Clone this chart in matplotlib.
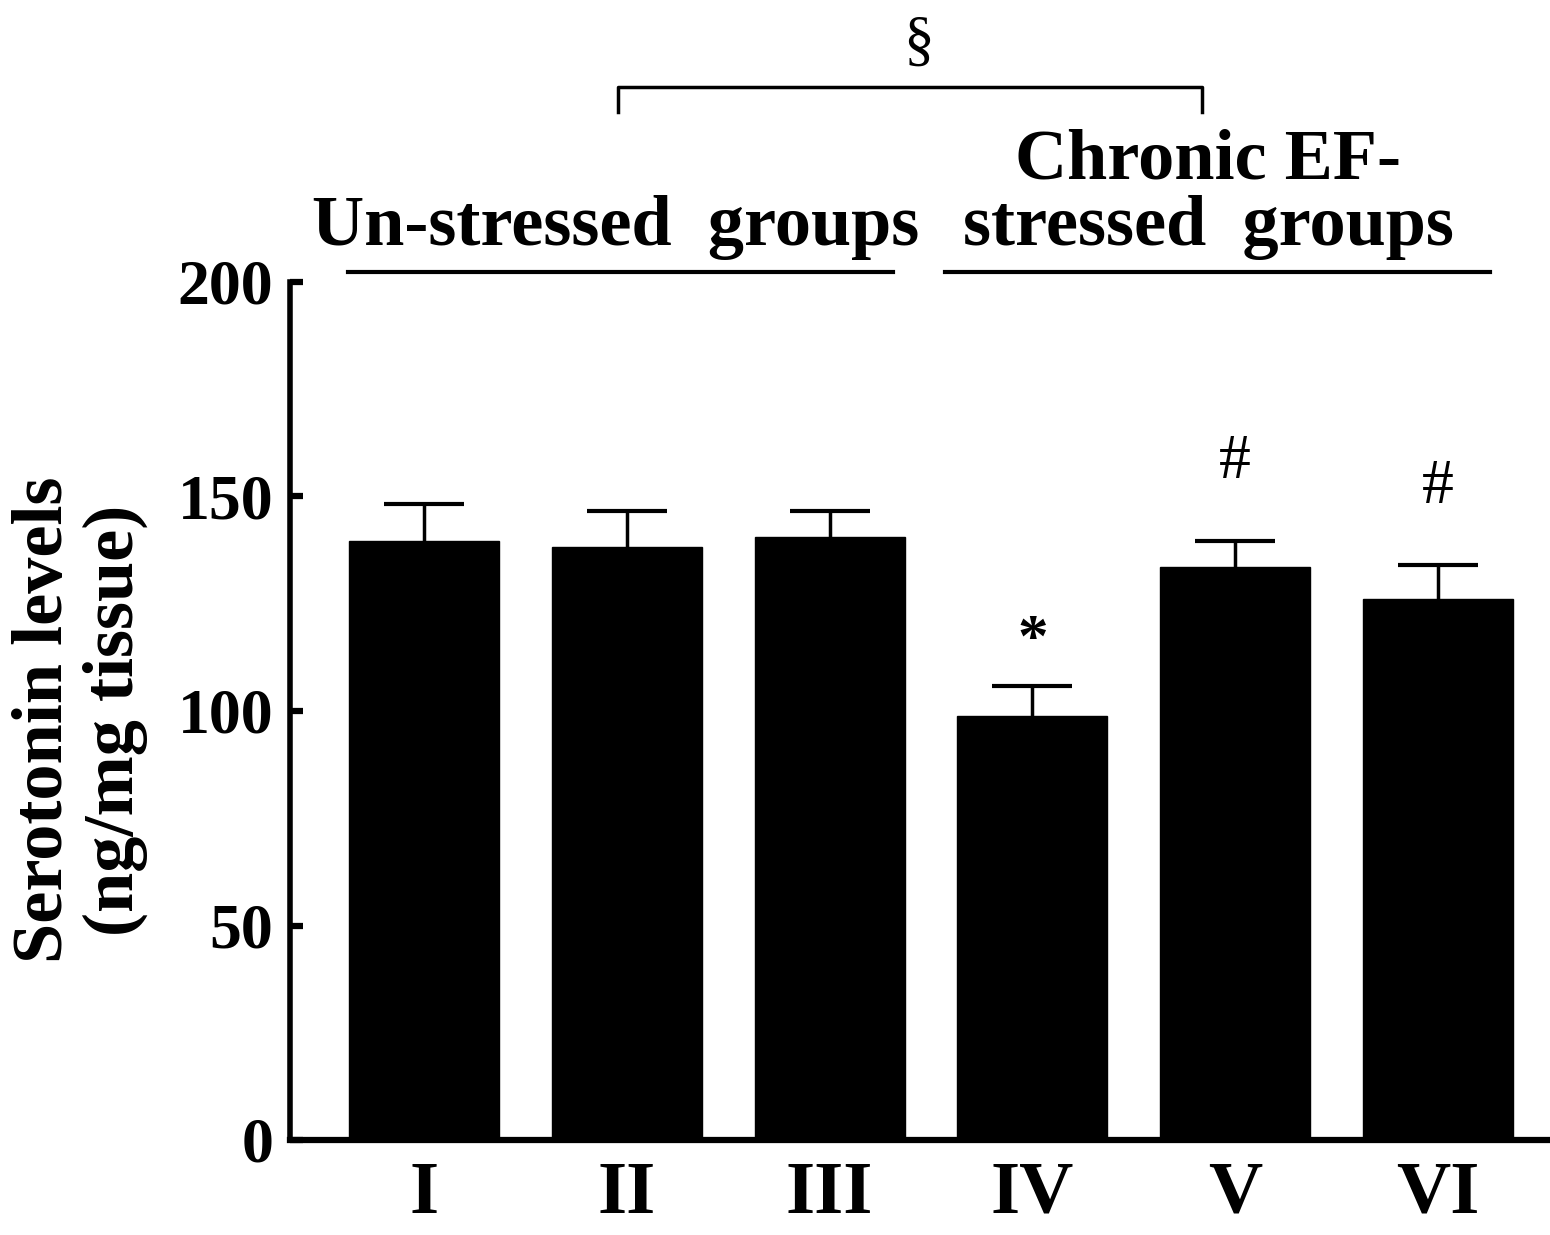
import numpy as np
import matplotlib
matplotlib.use("Agg")
import matplotlib.pyplot as plt

# --- datos ---
grupos = ["I", "II", "III", "IV", "V", "VI"]
medias = [139.6, 138.2, 140.6, 98.8, 133.6, 126.1]
errores = [8.6, 8.4, 6.1, 7.0, 6.1, 7.9]
marcas = ["", "", "", "*", "#", "#"]
ticks_y = [0, 50, 100, 150, 200]

plt.rcParams['font.family'] = ['Liberation Serif', 'DejaVu Serif']
plt.rcParams['font.weight'] = 'bold'

fig = plt.figure(figsize=(15.5, 12.35), dpi=100)
ax = fig.add_axes([290 / 1550, 95 / 1235, 1260 / 1550, 858 / 1235])

x = np.arange(len(grupos))
ax.bar(x, medias, width=0.74, color='black', edgecolor='black', zorder=2)
_, caps, _ = ax.errorbar(x, medias, yerr=[np.zeros(len(errores)), errores], fmt='none',
                         ecolor='black', elinewidth=2.5, capsize=29, capthick=3, zorder=3)
caps[0].set_visible(False)  # solo barra superior

# simbolos de significancia
for xi, m, e, s in zip(x, medias, errores, marcas):
    if s == "*":
        ax.text(xi, m + e + 10.5, s, ha='center', va='center', fontsize=44,
                fontweight='bold', zorder=4)
    elif s == "#":
        ax.text(xi, m + e + 18, s, ha='center', va='center', fontsize=46,
                fontweight='normal', zorder=4)

ax.set_xlim(-0.661, 5.552)
ax.set_ylim(0, 200)
ax.set_yticks(ticks_y)
ax.set_xticks(x)
ax.set_xticklabels(grupos, fontsize=54, fontweight='bold')
ax.tick_params(axis='y', direction='in', length=9, width=4.5, labelsize=46, pad=12)
ax.tick_params(axis='x', length=0, pad=15)

for lado in ['top', 'right']:
    ax.spines[lado].set_visible(False)
ax.spines['left'].set_linewidth(4)
ax.spines['bottom'].set_linewidth(4.5)

# etiquetas de grupo y lineas
ax.text(0.947, 208.6, "Un-stressed  groups", ha='center', va='baseline',
        fontsize=52, fontweight='bold', clip_on=False)
ax.text(3.866, 224.2, "Chronic EF-", ha='center', va='baseline',
        fontsize=52, fontweight='bold', clip_on=False)
ax.text(3.866, 208.6, "stressed  groups", ha='center', va='baseline',
        fontsize=52, fontweight='bold', clip_on=False)
ax.plot([-0.375, 2.313], [202.3, 202.3], color='black', lw=3, clip_on=False)
ax.plot([2.569, 5.256], [202.3, 202.3], color='black', lw=3, clip_on=False)

# corchete de comparacion
ax.plot([0.957, 0.957, 3.836, 3.836], [239.6, 245.5, 245.5, 239.6],
        color='black', lw=2.5, clip_on=False)
ax.text(2.436, 255.5, "§", ha='center', va='center', fontsize=44,
        fontweight='normal', clip_on=False)

fig.text(80 / 1550, (1235 - 720) / 1235, "Serotonin levels\n(ng/mg tissue)",
         rotation=90, ha='center', va='center', multialignment='center',
         fontsize=52, fontweight='bold', linespacing=1.1)

fig.savefig("out.png", dpi=100)
